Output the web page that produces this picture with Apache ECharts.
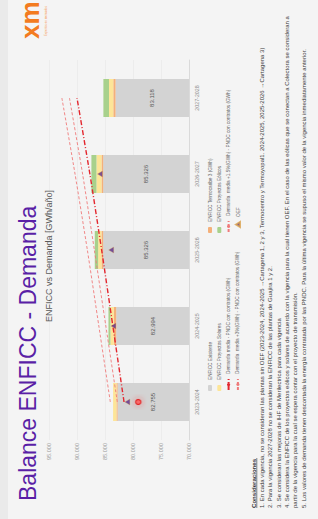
<!DOCTYPE html>
<html><head><meta charset="utf-8">
<script src="https://cdn.jsdelivr.net/npm/echarts@6/dist/echarts.min.js"></script>
<style>
html,body{margin:0;padding:0;background:#f4f4f4;overflow:hidden;width:318px;height:519px}
#wrap{position:absolute;left:0;top:0;width:519px;height:318px;transform-origin:0 0;transform:translate(0,519px) rotate(-90deg);}
</style></head>
<body><div id="wrap"></div>
<script>
const categories = ['2023-2024','2024-2025','2025-2026','2026-2027','2027-2028'];
const existente  = [82755, 82994, 85326, 85326, 83118];
const termocaribe = [200, 430, 300, 300, 400];
const solares    = [600, 600, 600, 900, 770];
const eolicos    = [0, 360, 600, 900, 1000];
const demanda    = [81600, 83600, 85600, 87700, 90000];
const demanda15  = [82800, 84850, 86900, 89000, 91350];
const demanda3   = [84050, 86100, 88150, 90350, 92700];
const oef        = [81000, 83500, 83900, 85900, null];
const marcador   = [79050, null, null, null, null];
const yMin = 70000, yMax = 95000, yStep = 5000;

const notas = [
 '1. En cada vigencia, no se consideran las plantas sin OEF (2023-2024, 2024-2025 \u2192Cartagena 1, 2 y 3, Termocentro y Termoyopal1. 2024-2025, 2025-2026 \u2192Cartagena 3)',
 '2. Para la vigencia 2027-2028 no se consideran la ENFICC de las plantas de Guajira 1 y 2.',
 '3. Se consideran las mejoras de IHF de Merilectrica para cada vigencia',
 '4. Se considera la ENFICC de los proyectos eólicos y solares de acuerdo con la vigencia para la cual tienen OEF. En el caso de las eólicas que se conectan a Colectora se consideran a',
 'partir de la vigencia para la cual se espera contar con el proyecto de transmisión.',
 '5. Los valores de demanda tienen descontada la energía contratada por las PNDC. Para la última vigencia se supuso el mismo valor de la vigencia inmediatamente anterior.'
];

const fmt = v => String(v).replace(/\B(?=(\d{3})+(?!\d))/g, '.');
const FONT = '"Liberation Sans", Arial, sans-serif';

const chart = echarts.init(document.getElementById('wrap'), null, {renderer:'svg', width:519, height:318});

const notaY = [262, 270.3, 278.6, 287, 295.3, 303.6];
const graphics = [
  {type:'rect', shape:{x:0,y:0,width:519,height:8}, style:{fill:'#eaeaea'}, silent:true},
  {type:'text', x:480, y:17, style:{text:'xm', font:'bold 26px "Liberation Sans", Arial', fill:'#f37b20'}},
  {type:'text', x:483, y:44, style:{text:'Expertos en mercados', font:'3px "Liberation Sans", Arial', fill:'#f5a060'}},
  {type:'text', x:11, y:253, style:{text:'Consideraciones', font:'bold 6.1px "Liberation Sans", Arial', fill:'#333', textVerticalAlign:'middle'}},
  {type:'line', shape:{x1:11,y1:256.8,x2:61,y2:256.8}, style:{stroke:'#333', lineWidth:0.6}}
];
notas.forEach((t,i)=>graphics.push({type:'text', x:11, y:notaY[i], style:{text:t, font:'6px "Liberation Sans", Arial', fill:'#3a3a3a', textVerticalAlign:'middle'}}));

const legendText = {fontSize:4.7, color:'#666', fontFamily:FONT, lineHeight:6};
const option = {
  backgroundColor:'#f4f4f4',
  animation:false,
  textStyle:{fontFamily:FONT},
  title:[
    {text:'Balance ENFICC - Demanda', left:13, top:11, textStyle:{fontSize:23, color:'#5a1fa6', fontWeight:'normal', fontFamily:FONT}},
    {text:'ENFICC vs Demanda [GWh/año]', left:192, top:39, textStyle:{fontSize:9, color:'#595959', fontWeight:'normal', fontFamily:FONT}}
  ],
  grid:{left:79, top:49, width:380, height:140, containLabel:false},
  legend:[
    {left:123, top:202, orient:'vertical', itemWidth:6, itemHeight:4, itemGap:3.3, data:['ENFICC Existente','ENFICC Proyectos Solares'], textStyle:legendText},
    {left:123, top:220.6, orient:'vertical', itemWidth:11, itemHeight:4, itemGap:3.3, data:['Demanda media - PNDC con contratos (GWh)','Demanda  media +3%(GWh) - PNDC con contratos (GWh)'], textStyle:legendText},
    {left:281, top:202, orient:'vertical', itemWidth:6, itemHeight:4, itemGap:3.3, data:['ENFICC Termocaribe 3 (GWh)','ENFICC Proyectos Eólicos'], textStyle:legendText},
    {left:281, top:220.6, orient:'vertical', itemWidth:11, itemHeight:4, itemGap:3.3, data:['Demanda  media +1.5%(GWh) - PNDC con contratos (GWh)'], textStyle:legendText},
    {left:286, top:230, orient:'vertical', itemWidth:5, itemHeight:4, data:['OEF'], textStyle:legendText}
  ],
  graphic:graphics,
  xAxis:{type:'category', data:categories,
    axisLine:{lineStyle:{color:'#d6d6d6', width:0.8}}, axisTick:{show:false},
    axisLabel:{fontSize:5.3, color:'#8c8c8c', margin:5, fontFamily:FONT}},
  yAxis:{type:'value', min:yMin, max:yMax, interval:yStep,
    axisLine:{show:false}, axisTick:{show:false},
    splitLine:{lineStyle:{color:'#e6e6e6', width:0.6}},
    axisLabel:{fontSize:5.6, color:'#9a9a9a', margin:3, formatter:fmt, fontFamily:FONT}},
  series:[
    {name:'ENFICC Existente', type:'bar', stack:'e', barWidth:'50%', data:existente,
      itemStyle:{color:'#d3d3d3'},
      label:{show:true, position:'inside', formatter:p=>fmt(p.value), fontSize:6, color:'#555', fontFamily:FONT}},
    {name:'ENFICC Termocaribe 3 (GWh)', type:'bar', stack:'e', data:termocaribe, itemStyle:{color:'#f4b07a'}},
    {name:'ENFICC Proyectos Solares', type:'bar', stack:'e', data:solares, itemStyle:{color:'#fde598'}},
    {name:'ENFICC Proyectos Eólicos', type:'bar', stack:'e', data:eolicos, itemStyle:{color:'#a8d18c'}},
    {name:'Demanda media - PNDC con contratos (GWh)', type:'line', data:demanda, symbol:'none', smooth:0.2, z:5,
      lineStyle:{color:'#e3262e', width:1.4, type:[5,2,1,2]}, itemStyle:{color:'#e3262e'}},
    {name:'Demanda  media +1.5%(GWh) - PNDC con contratos (GWh)', type:'line', data:demanda15, symbol:'none', smooth:0.2, z:5,
      lineStyle:{color:'#ef7a7a', width:0.9, type:[3,2]}, itemStyle:{color:'#ef7a7a'}},
    {name:'Demanda  media +3%(GWh) - PNDC con contratos (GWh)', type:'line', data:demanda3, symbol:'none', smooth:0.2, z:5,
      lineStyle:{color:'#ef7a7a', width:0.9, type:[3,2]}, itemStyle:{color:'#ef7a7a'}},
    {name:'OEF', type:'scatter', data:oef, symbol:'triangle', symbolSize:[6,5], z:6,
      itemStyle:{color:'#5b2a8a', borderColor:'#d9a04a', borderWidth:0.4}},
    {name:'marcador', type:'scatter', data:marcador, symbol:'circle', symbolSize:5, z:7,
      itemStyle:{color:'#ff5a5a', borderColor:'#e00000', borderWidth:1.2, shadowBlur:6, shadowColor:'rgba(255,40,40,0.7)'}}
  ]
};
chart.setOption(option);
</script></body></html>
